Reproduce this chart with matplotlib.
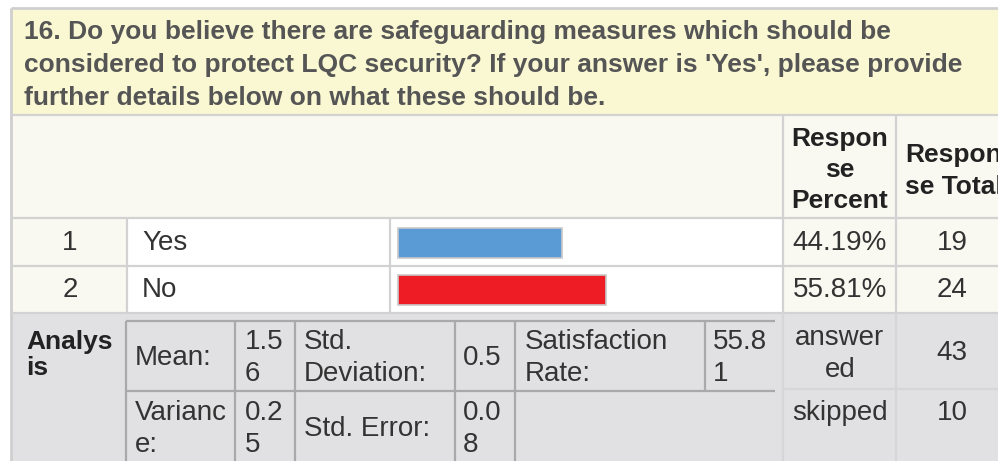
import matplotlib
matplotlib.use("Agg")
import matplotlib.pyplot as plt
from matplotlib.patches import Rectangle

question = ("16. Do you believe there are safeguarding measures which should be\n"
            "considered to protect LQC security? If your answer is 'Yes', please provide\n"
            "further details below on what these should be.")
row_numbers = ["1", "2"]
categories = ["Yes", "No"]
percents = [44.19, 55.81]
counts = [19, 24]
bar_colors = ["#5b9bd5", "#ee1c25"]
answered = 43
skipped = 10
stat_cells_top = [("Mean:", "1.5\n6"), ("Std.\nDeviation:", "0.5"), ("Satisfaction\nRate:", "55.8\n1")]
stat_cells_bottom = [("Varianc\ne:", "0.2\n5"), ("Std. Error:", "0.0\n8")]

plt.rcParams["font.family"] = ["Liberation Sans", "DejaVu Sans"]

W, H = 998, 461
fig = plt.figure(figsize=(W / 100, H / 100), dpi=100)
ax = fig.add_axes([0, 0, 1, 1])
ax.set_xlim(0, W)
ax.set_ylim(H, 0)
ax.axis("off")

TXT = "#333333"
LINE = "#d2d2d2"
CREAM = "#f9f9f1"
FS = 20      # regular cell text
FSB = 19     # bold text


def box(x0, y0, x1, y1, color):
    ax.add_patch(Rectangle((x0, y0), x1 - x0, y1 - y0, facecolor=color, edgecolor="none", zorder=1))


def hline(y, x0, x1, color=LINE, lw=1.6):
    ax.plot([x0, x1], [y, y], color=color, lw=lw, zorder=3, solid_capstyle="butt")


def vline(x, y0, y1, color=LINE, lw=1.6):
    ax.plot([x, x], [y0, y1], color=color, lw=lw, zorder=3, solid_capstyle="butt")


def cell_text(x, y, s, ha="left", ls=1.32, **kw):
    ax.text(x, y, s, fontsize=FS, color=TXT, ha=ha, va="center", linespacing=ls, zorder=4, **kw)


# title band
box(11, 8, W, 115, "#faf8d2")
ax.text(24, 65, question, fontsize=FSB, fontweight="bold", color="#555555",
        va="center", ha="left", linespacing=1.45, zorder=4)

# header row
box(11, 116, W, 218, CREAM)
ax.text(840, 170, "Respon\nse\nPercent", fontsize=FSB, fontweight="bold", color="#222222",
        ha="center", va="center", linespacing=1.38, zorder=4)
ax.text(905, 171, "Respon\nse Total", fontsize=FSB, fontweight="bold", color="#222222",
        ha="left", va="center", linespacing=1.38, zorder=4)

# answer rows
row_top = [219, 266]
row_h = 47
px_per_pct = 3.72
for i in range(len(categories)):
    y0 = row_top[i]
    y1 = y0 + row_h
    yc = (y0 + y1) / 2
    box(11, y0, 127, y1, CREAM)
    box(127, y0, 783, y1, "white")
    box(783, y0, W, y1, CREAM)
    cell_text(70, yc, row_numbers[i], ha="center")
    cell_text(142, yc, categories[i])
    cell_text(840, yc, f"{percents[i]:.2f}%", ha="center")
    cell_text(952, yc, str(counts[i]), ha="center")

bar_y = [r + row_h / 2 for r in row_top]
ax.barh(bar_y, [p * px_per_pct for p in percents], height=30, left=398,
        color=bar_colors, edgecolor="#c8c8c8", linewidth=1.2, zorder=2)

# analysis block
box(11, 313, W, H, "#e1e1e3")
ax.text(26, 355, "Analys\nis", fontsize=FSB, fontweight="bold", color="#222222",
        ha="left", va="center", linespacing=1.12, zorder=4)

INNER = "#a9a9a9"
hline(321, 126, 775, INNER)
hline(391, 126, 775, INNER)
for x in [126, 235, 295, 455, 515]:
    vline(x, 321, H, INNER)
vline(705, 321, 391, INNER)

top_x = [(135, 245), (304, 463), (525, 713)]
for (lab, val), (xl, xv) in zip(stat_cells_top, top_x):
    cell_text(xl, 358, lab)
    cell_text(xv, 358, val)
bot_x = [(135, 245), (304, 463)]
for (lab, val), (xl, xv) in zip(stat_cells_bottom, bot_x):
    cell_text(xl, 429, lab)
    cell_text(xv, 429, val)

cell_text(840, 354, "answer\ned", ha="center", ls=1.26)
cell_text(952, 353, str(answered), ha="center")
cell_text(840, 413, "skipped", ha="center")
cell_text(952, 413, str(skipped), ha="center")
hline(389, 783, W, "#d6d6d8")

# grid lines of the outer table
hline(8, 11, W, "#cfcfcf", 2)
vline(11, 8, H, "#cfcfcf", 2)
hline(115.5, 11, W)
hline(218, 11, W)
hline(265.5, 11, W)
hline(312.5, 11, W)
vline(127, 218, 312)
vline(390, 218, 312)
vline(783, 116, 313)
vline(896, 116, 313)
vline(783, 313, H, "#d6d6d8")
vline(896, 313, H, "#d6d6d8")

fig.savefig("out.png", dpi=100)
